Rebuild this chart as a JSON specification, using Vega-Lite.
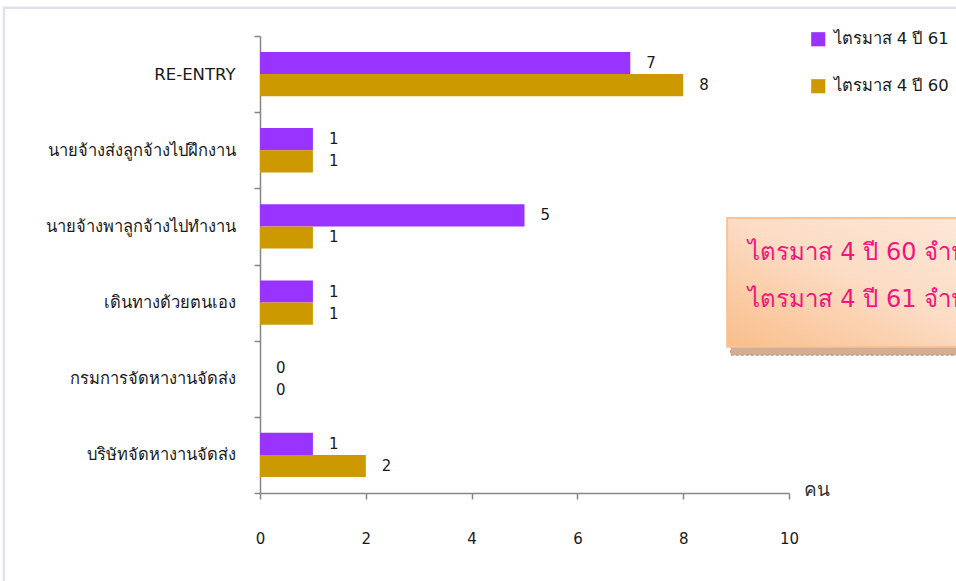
{
  "$schema": "https://vega.github.io/schema/vega-lite/v6.json",
  "width": 529,
  "height": 457,
  "autosize": "none",
  "padding": {"left": 260, "top": 36, "right": 167, "bottom": 88},
  "background": "white",
  "config": {
    "view": {"stroke": null},
    "font": "DejaVu Sans"
  },
  "datasets": {
    "bars": [
      {"cat": "RE-ENTRY", "series": "ไตรมาส 4 ปี 61", "value": 7},
      {"cat": "RE-ENTRY", "series": "ไตรมาส 4 ปี 60", "value": 8},
      {"cat": "นายจ้างส่งลูกจ้างไปฝึกงาน", "series": "ไตรมาส 4 ปี 61", "value": 1},
      {"cat": "นายจ้างส่งลูกจ้างไปฝึกงาน", "series": "ไตรมาส 4 ปี 60", "value": 1},
      {"cat": "นายจ้างพาลูกจ้างไปทำงาน", "series": "ไตรมาส 4 ปี 61", "value": 5},
      {"cat": "นายจ้างพาลูกจ้างไปทำงาน", "series": "ไตรมาส 4 ปี 60", "value": 1},
      {"cat": "เดินทางด้วยตนเอง", "series": "ไตรมาส 4 ปี 61", "value": 1},
      {"cat": "เดินทางด้วยตนเอง", "series": "ไตรมาส 4 ปี 60", "value": 1},
      {"cat": "กรมการจัดหางานจัดส่ง", "series": "ไตรมาส 4 ปี 61", "value": 0},
      {"cat": "กรมการจัดหางานจัดส่ง", "series": "ไตรมาส 4 ปี 60", "value": 0},
      {"cat": "บริษัทจัดหางานจัดส่ง", "series": "ไตรมาส 4 ปี 61", "value": 1},
      {"cat": "บริษัทจัดหางานจัดส่ง", "series": "ไตรมาส 4 ปี 60", "value": 2}
    ],
    "frame": [{"x": -4.84, "x2": 20, "y": -0.37, "y2": 7.5}],
    "shadow": [{"x": 8.9, "x2": 14, "y": 4.08, "y2": 4.19}],
    "box": [{"x": 8.83, "x2": 14, "y": 2.39, "y2": 4.08}],
    "notes": [
      {"x": 9.22, "y": 2.85, "t": "ไตรมาส 4 ปี 60 จำนวน 13 คน"},
      {"x": 9.22, "y": 3.47, "t": "ไตรมาส 4 ปี 61 จำนวน 15 คน"}
    ]
  },
  "layer": [
    {
      "data": {"name": "bars"},
      "encoding": {
        "y": {
          "field": "cat",
          "type": "nominal",
          "sort": ["RE-ENTRY", "นายจ้างส่งลูกจ้างไปฝึกงาน", "นายจ้างพาลูกจ้างไปทำงาน", "เดินทางด้วยตนเอง", "กรมการจัดหางานจัดส่ง", "บริษัทจัดหางานจัดส่ง"],
          "scale": {"paddingInner": 0, "paddingOuter": 0},
          "axis": {
            "title": null,
            "tickBand": "extent",
            "tickSize": 6,
            "tickColor": "#868686",
            "tickWidth": 1.5,
            "domainColor": "#868686",
            "domainWidth": 1.5,
            "labelFontSize": 16.5,
            "labelColor": "#1a1a1a",
            "labelPadding": 19,
            "labelLimit": 300
          }
        },
        "yOffset": {
          "field": "series",
          "type": "nominal",
          "sort": ["ไตรมาส 4 ปี 61", "ไตรมาส 4 ปี 60"],
          "scale": {"paddingInner": 0, "paddingOuter": 0.72}
        },
        "x": {
          "field": "value",
          "type": "quantitative",
          "scale": {"domain": [0, 10], "nice": false},
          "axis": {
            "values": [0, 2, 4, 6, 8, 10],
            "grid": false,
            "labelFlush": false,
            "tickSize": 6,
            "tickColor": "#868686",
            "tickWidth": 1.5,
            "domainColor": "#868686",
            "domainWidth": 1.5,
            "labelFontSize": 15,
            "labelColor": "#1a1a1a",
            "labelPadding": 32,
            "title": "คน",
            "titleFontSize": 19,
            "titleFontWeight": "normal",
            "titleColor": "#333333",
            "titleAnchor": "start",
            "titleAlign": "left",
            "titleBaseline": "middle",
            "titleX": 543,
            "titleY": -4
          }
        }
      },
      "layer": [
        {
          "mark": {"type": "bar"},
          "encoding": {
            "color": {
              "field": "series",
              "type": "nominal",
              "scale": {"domain": ["ไตรมาส 4 ปี 61", "ไตรมาส 4 ปี 60"], "range": ["#9933FF", "#CC9900"]},
              "legend": {
                "title": null,
                "orient": "none",
                "legendX": 550,
                "legendY": -5,
                "symbolType": "square",
                "symbolSize": 200,
                "symbolStrokeWidth": 0,
                "labelFontSize": 16.5,
                "labelColor": "#1a1a1a",
                "labelOffset": 7,
                "rowPadding": 30,
                "labelLimit": 300
              }
            }
          }
        },
        {
          "mark": {"type": "text", "align": "left", "baseline": "middle", "dx": 16, "fontSize": 15, "color": "#1a1a1a"},
          "encoding": {"text": {"field": "value", "type": "quantitative"}}
        }
      ]
    },
    {
      "encoding": {
        "x": {"field": "x", "type": "quantitative", "scale": {"domain": [0, 10], "nice": false, "zero": false}, "axis": null},
        "y": {"field": "y", "type": "quantitative", "scale": {"domain": [0, 6], "nice": false, "zero": false, "reverse": true}, "axis": null}
      },
      "layer": [
        {
          "data": {"name": "frame"},
          "mark": {"type": "rect", "clip": false, "fill": null, "fillOpacity": 0, "stroke": "#E3E0EC", "strokeWidth": 2.5},
          "encoding": {"x2": {"field": "x2"}, "y2": {"field": "y2"}}
        },
        {
          "data": {"name": "shadow"},
          "mark": {"type": "rect", "clip": false, "fill": "#D4AE92", "strokeDash": [3, 2], "stroke": "#B98C6C", "strokeWidth": 1},
          "encoding": {"x2": {"field": "x2"}, "y2": {"field": "y2"}}
        },
        {
          "data": {"name": "box"},
          "mark": {
            "type": "rect",
            "clip": false,
            "stroke": "#F9C398",
            "strokeWidth": 2,
            "fill": {
              "gradient": "linear",
              "x1": 0, "y1": 1, "x2": 1, "y2": 0,
              "stops": [
                {"offset": 0, "color": "#F9BE8A"},
                {"offset": 0.5, "color": "#FCDCC4"},
                {"offset": 1, "color": "#FDE9DA"}
              ]
            }
          },
          "encoding": {"x2": {"field": "x2"}, "y2": {"field": "y2"}}
        },
        {
          "data": {"name": "notes"},
          "mark": {"type": "text", "clip": false, "align": "left", "baseline": "middle", "fontSize": 24, "color": "#F2157B"},
          "encoding": {"text": {"field": "t"}}
        }
      ]
    }
  ],
  "resolve": {"scale": {"x": "independent", "y": "independent", "color": "independent"}}
}
